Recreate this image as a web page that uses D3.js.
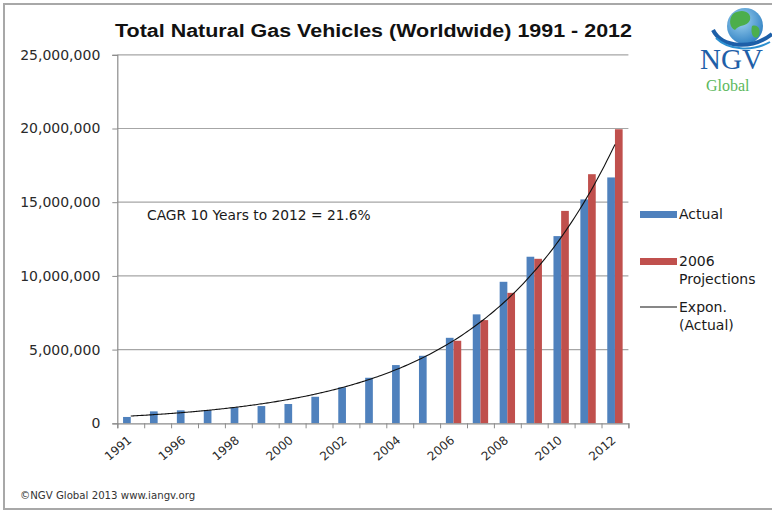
<!DOCTYPE html>
<html>
<head>
<meta charset="utf-8">
<script src="https://cdn.jsdelivr.net/npm/d3@7"></script>
<style>
  html, body { margin: 0; padding: 0; background: #fff; }
  svg { display: block; }
</style>
</head>
<body>
<svg id="chart" width="772" height="512"></svg>
<script>
// ---- data ----
const categories = ["1991","1995","1996","1997","1998","1999","2000","2001","2002","2003","2004","2005","2006","2007","2008","2009","2010","2011","2012"];
const actual = [430000, 810000, 880000, 880000, 1080000, 1170000, 1310000, 1800000, 2440000, 3090000, 3950000, 4580000, 5800000, 7390000, 9600000, 11300000, 12700000, 15190000, 16680000];
const projections = [null, null, null, null, null, null, null, null, null, null, null, null, 5600000, 7000000, 8850000, 11160000, 14410000, 16900000, 19950000];
const yTickValues = [0, 5000000, 10000000, 15000000, 20000000, 25000000];
const xTickLabels = ["1991","1996","1998","2000","2002","2004","2006","2008","2010","2012"];
const seriesNames = ["Actual", "2006 Projections"];
const titleText = "Total Natural Gas Vehicles (Worldwide) 1991 - 2012";
const cagrText = "CAGR 10 Years to 2012 = 21.6%";
const footerText = "\u00A9NGV Global 2013 www.iangv.org";

// ---- layout ----
const svg = d3.select("#chart");
const pLeft = 117.3, pRight = 628.4, pTop = 54.8, pBottom = 423.3;
const blue = "#4F81BD", red = "#C0504D";
const axisFont = "DejaVu Sans, Verdana, sans-serif";

// frame
svg.append("rect").attr("x", 4).attr("y", 4).attr("width", 800).attr("height", 505)
  .attr("fill", "#fff").attr("stroke", "#a8a8a8").attr("stroke-width", 2);

const x = d3.scaleBand().domain(categories).range([pLeft, pRight]).paddingInner(0).paddingOuter(0);
const x1 = d3.scaleBand().domain(["actual", "proj"]).range([0, x.bandwidth()]).paddingInner(0).paddingOuter(0.75);
const xb = d3.scaleLinear().domain([0, categories.length]).range([pLeft, pRight]);
const y = d3.scaleLinear().domain([0, 25000000]).range([pBottom, pTop]);

// gridlines
svg.append("g").selectAll("line").data(yTickValues.filter(d => d > 0)).join("line")
  .attr("x1", pLeft).attr("x2", pRight)
  .attr("y1", d => y(d)).attr("y2", d => y(d))
  .attr("stroke", "#a6a6a6").attr("stroke-width", 1.2);

// y axis
const yAxis = svg.append("g").attr("transform", `translate(${pLeft},0)`)
  .call(d3.axisLeft(y).tickValues(yTickValues).tickFormat(d3.format(",")).tickSize(5).tickPadding(12));
yAxis.select(".domain").attr("stroke", "#8c8c8c").attr("stroke-width", 1.2);
yAxis.selectAll(".tick line").attr("stroke", "#8c8c8c");
yAxis.selectAll("text").attr("font-family", axisFont).attr("font-size", "14px").attr("fill", "#2a2a2a");

// bars
const bars = svg.append("g");
bars.selectAll("rect.a").data(categories).join("rect").attr("class", "a")
  .attr("x", d => x(d) + x1("actual"))
  .attr("width", x1.bandwidth())
  .attr("y", (d, i) => y(actual[i]))
  .attr("height", (d, i) => y(0) - y(actual[i]))
  .attr("fill", blue);
bars.selectAll("rect.p").data(categories.filter((d, i) => projections[i] != null)).join("rect").attr("class", "p")
  .attr("x", d => x(d) + x1("proj"))
  .attr("width", x1.bandwidth())
  .attr("y", d => y(projections[categories.indexOf(d)]))
  .attr("height", d => y(0) - y(projections[categories.indexOf(d)]))
  .attr("fill", red);

// x axis (tick marks at category boundaries)
const xAxis = svg.append("g").attr("transform", `translate(0,${pBottom})`)
  .call(d3.axisBottom(xb).tickValues(d3.range(categories.length + 1)).tickFormat("").tickSize(5));
xAxis.select(".domain").attr("stroke", "#8c8c8c").attr("stroke-width", 1.2);
xAxis.selectAll(".tick line").attr("stroke", "#8c8c8c");

// x labels (every other category)
svg.append("g").selectAll("text").data(xTickLabels).join("text")
  .attr("transform", d => `translate(${x(d) + x.bandwidth() / 2 - 1},${pBottom + 15}) rotate(-40)`)
  .attr("text-anchor", "end").attr("dy", "0.35em")
  .attr("font-family", axisFont).attr("font-size", "12px").attr("fill", "#2a2a2a")
  .text(d => d);

// exponential trendline (least-squares fit of ln(actual) on category index, as the chart's "Expon. (Actual)")
const n = actual.length;
const xs = d3.range(1, n + 1);
const ls = actual.map(v => Math.log(v));
const mx = d3.mean(xs), ml = d3.mean(ls);
const b = d3.sum(xs, (v, i) => (v - mx) * (ls[i] - ml)) / d3.sum(xs, v => (v - mx) * (v - mx));
const a = ml - b * mx;
const trend = d3.range(0, n - 1 + 0.001, 0.1).map(t => ({ t, v: Math.exp(a + b * (t + 1)) }));
const xc = d3.scaleLinear().domain([0, n - 1]).range([x(categories[0]) + x.bandwidth() / 2, x(categories[n - 1]) + x.bandwidth() / 2]);
svg.append("path").datum(trend)
  .attr("d", d3.line().x(d => xc(d.t)).y(d => y(d.v)).curve(d3.curveMonotoneX))
  .attr("fill", "none").attr("stroke", "#111").attr("stroke-width", 1.1);

// title
svg.append("text").attr("x", 115).attr("y", 37)
  .attr("font-family", "Liberation Sans, Arial, sans-serif").attr("font-weight", "bold")
  .attr("font-size", "18px").attr("fill", "#111")
  .attr("textLength", 517).attr("lengthAdjust", "spacingAndGlyphs")
  .text(titleText);

// CAGR annotation
svg.append("text").attr("x", 147).attr("y", 220)
  .attr("font-family", axisFont).attr("font-size", "13.8px").attr("fill", "#1a1a1a").text(cagrText);

// legend
const lg = svg.append("g").attr("font-family", axisFont).attr("font-size", "14px").attr("fill", "#1a1a1a");
lg.append("rect").attr("x", 640).attr("y", 211).attr("width", 37).attr("height", 7).attr("fill", blue);
lg.append("text").attr("x", 679).attr("y", 219).text(seriesNames[0]);
lg.append("rect").attr("x", 640).attr("y", 258).attr("width", 37).attr("height", 7).attr("fill", red);
const projWords = seriesNames[1].split(" ");
lg.append("text").attr("x", 679).attr("y", 266).text(projWords[0]);
lg.append("text").attr("x", 679).attr("y", 284).text(projWords[1]);
lg.append("line").attr("x1", 640).attr("x2", 677).attr("y1", 307).attr("y2", 307).attr("stroke", "#111").attr("stroke-width", 1.1);
lg.append("text").attr("x", 679).attr("y", 312).text("Expon.");
lg.append("text").attr("x", 679).attr("y", 330).text("(Actual)");

// footer
svg.append("text").attr("x", 20).attr("y", 499)
  .attr("font-family", axisFont).attr("font-size", "10.2px").attr("fill", "#333").text(footerText);

// logo
const logo = svg.append("g");
const defs = svg.append("defs");
const grad = defs.append("radialGradient").attr("id", "globe").attr("cx", "40%").attr("cy", "35%").attr("r", "70%");
grad.append("stop").attr("offset", "0%").attr("stop-color", "#9fd3f0");
grad.append("stop").attr("offset", "100%").attr("stop-color", "#2e7fc2");
logo.append("circle").attr("cx", 745).attr("cy", 26).attr("r", 18).attr("fill", "url(#globe)");
logo.append("path").attr("d", "M733,14 C742,8 752,12 750,20 C747,27 739,24 735,30 C730,28 728,20 733,14 Z").attr("fill", "#4cae4c");
logo.append("path").attr("d", "M752,26 C758,24 762,30 758,37 C754,40 750,34 752,26 Z").attr("fill", "#4cae4c");
logo.append("path").attr("d", "M713,30 C722,48 752,50 772,34").attr("fill", "none").attr("stroke", "#1d5fa8").attr("stroke-width", 4);
logo.append("path").attr("d", "M716,38 C728,50 752,52 770,42").attr("fill", "none").attr("stroke", "#2c8fd0").attr("stroke-width", 2);
logo.append("text").attr("x", 700).attr("y", 69).attr("font-family", "Liberation Serif, DejaVu Serif, serif")
  .attr("font-size", "29px").attr("fill", "#1f5fa8").text("NGV");
logo.append("text").attr("x", 706).attr("y", 91).attr("font-family", "Liberation Serif, DejaVu Serif, serif")
  .attr("font-size", "16px").attr("fill", "#5cb85c").text("Global");
</script>
</body>
</html>
